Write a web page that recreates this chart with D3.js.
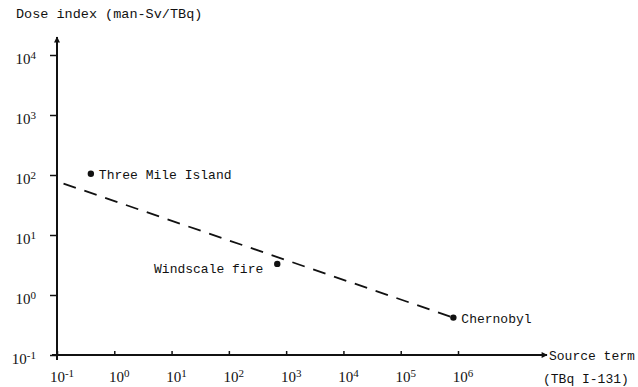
<!DOCTYPE html>
<html>
<head>
<meta charset="utf-8">
<script src="https://cdn.jsdelivr.net/npm/d3@7"></script>
<style>
  body { margin: 0; background: #fff; }
  svg { display: block; }
  .tick text { font-family: "Liberation Serif", serif; font-size: 15px; fill: #111; }
  .mono { font-family: "Liberation Mono", monospace; font-size: 13px; fill: #111; }
</style>
</head>
<body>
<div id="container"></div>
<script>
'use strict';

// data
var sites = ['Three Mile Island', 'Windscale fire', 'Chernobyl'];
var sourceTerm = [0.39, 700, 8.3e5];   // TBq I-131
var doseIndex = [105, 3.3, 0.42];       // man-Sv/TBq
var trendX = [0.13, 8.3e5];
var trendY = [72, 0.42];
var xTicks = [-1, 0, 1, 2, 3, 4, 5, 6];
var yTicks = [-1, 0, 1, 2, 3, 4];

var width = 638, height = 387;

var svg = d3.select('#container').append('svg')
  .attr('width', width).attr('height', height);

var x = d3.scaleLog().domain([0.1, 1e6]).range([57, 458]);
var y = d3.scaleLog().domain([0.1, 1e4]).range([355, 55]);

var ink = '#111';

// arrow marker
svg.append('defs').append('marker')
  .attr('id', 'arrow')
  .attr('viewBox', '0 0 10 10')
  .attr('refX', 9).attr('refY', 5)
  .attr('markerWidth', 9).attr('markerHeight', 6)
  .attr('markerUnits', 'userSpaceOnUse')
  .attr('orient', 'auto')
  .append('path').attr('d', 'M0,0L10,5L0,10Z').attr('fill', ink);

// axes (ticks + labels via d3 axis, lines drawn separately)
function supLabels(sel) {
  sel.selectAll('.tick text').each(function (d) {
    var t = d3.select(this);
    var e = Math.round(Math.log10(d));
    t.text(null);
    t.append('tspan').text('10');
    t.append('tspan').attr('dy', '-0.45em').style('font-size', '11px').text(e);
  });
}

var gx = svg.append('g')
  .attr('transform', 'translate(0,' + y(0.1) + ')')
  .call(d3.axisTop(x)
    .tickValues(xTicks.map(function (e) { return Math.pow(10, e); }))
    .tickSize(4).tickPadding(0));
gx.select('.domain').remove();
gx.selectAll('.tick line').attr('stroke', ink).attr('stroke-width', 1.5);
gx.selectAll('.tick text').attr('y', 27).attr('dx', '0.3em');
supLabels(gx);

var gy = svg.append('g')
  .attr('transform', 'translate(' + x(0.1) + ',0)')
  .call(d3.axisLeft(y)
    .tickValues(yTicks.map(function (e) { return Math.pow(10, e); }))
    .tickSize(7).tickPadding(14));
gy.select('.domain').remove();
gy.selectAll('.tick line').attr('stroke', ink).attr('stroke-width', 1.5);
gy.selectAll('.tick text').attr('dy', '0.55em');
supLabels(gy);

svg.append('line')
  .attr('x1', x(0.1) - 5).attr('x2', 547)
  .attr('y1', y(0.1)).attr('y2', y(0.1))
  .attr('stroke', ink).attr('stroke-width', 2)
  .attr('marker-end', 'url(#arrow)');

svg.append('line')
  .attr('x1', x(0.1)).attr('x2', x(0.1))
  .attr('y1', y(0.1) + 5).attr('y2', 37)
  .attr('stroke', ink).attr('stroke-width', 2)
  .attr('marker-end', 'url(#arrow)');

// axis titles
svg.append('text').attr('class', 'mono')
  .attr('x', 16).attr('y', 18).style('font-size', '13.5px')
  .text('Dose index (man-Sv/TBq)');
svg.append('text').attr('class', 'mono')
  .attr('x', 549).attr('y', 360)
  .text('Source term');
svg.append('text').attr('class', 'mono')
  .attr('x', 543).attr('y', 383)
  .text('(TBq I-131)');

// trend line
svg.append('path')
  .datum(d3.zip(trendX, trendY))
  .attr('d', d3.line()
    .x(function (d) { return x(d[0]); })
    .y(function (d) { return y(d[1]); }))
  .attr('fill', 'none')
  .attr('stroke', ink).attr('stroke-width', 1.8)
  .attr('stroke-dasharray', '13,9');

// points
var pts = d3.range(sites.length).map(function (i) {
  return { name: sites[i], x: sourceTerm[i], y: doseIndex[i] };
});

svg.append('g').selectAll('circle')
  .data(pts).enter().append('circle')
  .attr('cx', function (d) { return x(d.x); })
  .attr('cy', function (d) { return y(d.y); })
  .attr('r', 3.2).attr('fill', ink);

var labelOff = { 'Three Mile Island': [8, 5, 'start'], 'Windscale fire': [-14, 9, 'end'], 'Chernobyl': [8, 5, 'start'] };

svg.append('g').selectAll('text')
  .data(pts).enter().append('text')
  .attr('class', 'mono')
  .attr('x', function (d) { return x(d.x) + labelOff[d.name][0]; })
  .attr('y', function (d) { return y(d.y) + labelOff[d.name][1]; })
  .attr('text-anchor', function (d) { return labelOff[d.name][2]; })
  .text(function (d) { return d.name; });
</script>
</body>
</html>
